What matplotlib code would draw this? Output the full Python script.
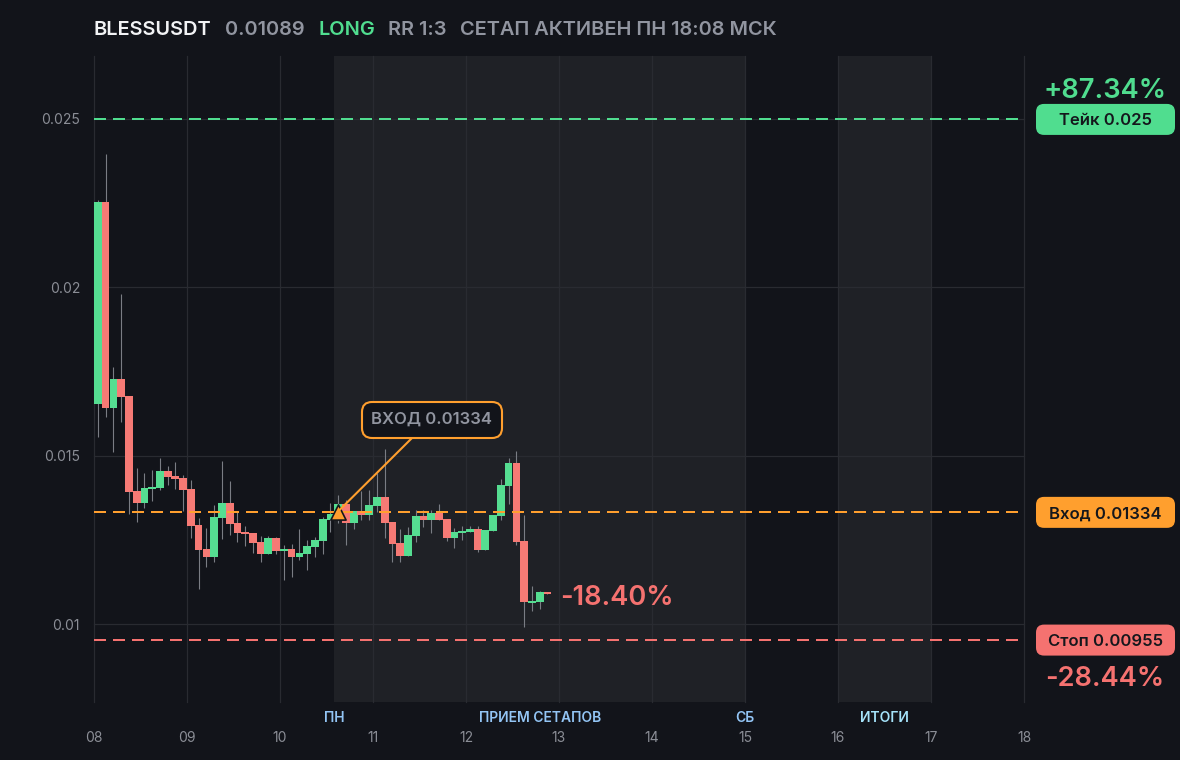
import numpy as np
import matplotlib
matplotlib.use("Agg")
import matplotlib.pyplot as plt
from matplotlib.patches import FancyBboxPatch

plt.rcParams["font.family"] = ["Inter", "DejaVu Sans"]

BG = "#12141a"
SHADE = "#1f2126"
GRID = "#292b31"
WICK = "#7a7d84"
GREEN = "#50dd8f"
RED = "#f57270"
CANDLE_GREEN = "#55dd91"
CANDLE_RED = "#f67a75"
ORANGE = "#ff9f2e"
GRAY = "#9195a0"
TICK = "#8b8e96"

# 2h candles, first one starts on day 08
opens = [16.541, 22.535, 16.422, 17.283, 16.778, 13.959, 13.603, 14.018, 14.048, 14.553,
         14.404, 14.345, 14.018, 12.950, 12.238, 12.000, 13.158, 13.603, 13.009, 12.742,
         12.713, 12.445, 12.090, 12.564, 12.179, 12.238, 12.000, 12.090, 12.297, 12.475,
         13.098, 13.158, 13.573, 13.009, 13.365, 13.247, 13.514, 13.781, 13.039, 12.416,
         12.030, 12.624, 13.217, 13.098, 13.306, 13.128, 12.564, 12.713, 12.742, 12.831,
         12.208, 12.772, 13.217, 14.107, 14.790, 12.475, 10.635, 10.665, 10.961]
highs = [22.594, 23.959, 17.639, 19.805, 16.778, 14.641, 14.493, 14.582, 14.938, 14.701,
         14.820, 14.434, 14.286, 13.158, 12.861, 13.544, 14.849, 14.256, 13.336, 12.920,
         12.713, 12.624, 12.624, 12.594, 12.357, 12.386, 12.831, 12.505, 12.594, 13.187,
         13.603, 13.840, 13.692, 13.365, 13.959, 13.989, 14.493, 15.205, 13.039, 12.831,
         12.891, 13.395, 13.395, 13.395, 13.573, 13.128, 12.861, 12.920, 12.920, 12.920,
         12.802, 13.247, 14.315, 14.938, 15.146, 13.247, 11.140, 10.990, 10.961]
lows = [15.561, 16.155, 15.116, 16.007, 13.276, 13.039, 13.455, 13.662, 13.989, 14.137,
        14.018, 13.365, 12.564, 11.051, 11.703, 11.852, 12.535, 12.653, 12.445, 12.327,
        12.119, 11.852, 12.090, 12.090, 11.318, 11.407, 11.911, 11.615, 12.000, 12.090,
        12.742, 13.009, 12.357, 12.831, 13.098, 13.098, 13.336, 12.564, 11.852, 11.852,
        12.030, 12.445, 12.891, 12.713, 13.098, 12.475, 12.268, 12.505, 12.742, 12.149,
        12.208, 12.772, 13.098, 13.573, 12.357, 9.923, 10.398, 10.457, 10.890]
closes = [22.535, 16.422, 17.283, 16.748, 13.929, 13.603, 14.048, 14.078, 14.553, 14.375,
          14.315, 13.989, 12.920, 12.208, 12.000, 13.187, 13.603, 12.980, 12.713, 12.683,
          12.416, 12.090, 12.564, 12.179, 12.238, 12.000, 12.119, 12.327, 12.505, 13.128,
          13.276, 13.573, 13.009, 13.365, 13.247, 13.544, 13.781, 13.009, 12.386, 12.030,
          12.653, 13.217, 13.098, 13.306, 13.098, 12.564, 12.742, 12.772, 12.831, 12.208,
          12.802, 13.247, 14.137, 14.790, 12.445, 10.665, 10.694, 10.961, 10.890]

day_ticks = [8, 9, 10, 11, 12, 13, 14, 15, 16, 17, 18]
day_labels = ["08", "09", "10", "11", "12", "13", "14", "15", "16", "17", "18"]
price_ticks = [0.01, 0.015, 0.02, 0.025]
price_labels = ["0.01", "0.015", "0.02", "0.025"]

take = 0.025
entry = 0.01334
stop = 0.00955
entry_day = 10.62
shade_spans = [(10.583, 15.0), (16.0, 17.0)]
session_names = ["ПН", "ПРИЕМ СЕТАПОВ", "СБ", "ИТОГИ"]
session_days = [10.583, 12.8, 15.0, 16.5]
session_colors = ["#93c5f5", "#93c5f5", "#93c5f5", "#a5e3fa"]

W, H = 1180, 760
fig = plt.figure(figsize=(W / 100, H / 100), dpi=100, facecolor=BG)
ax = fig.add_axes([94 / W, 1 - 702 / H, 930 / W, 646 / H], facecolor=BG)
ax.set_xlim(8, 18)
ax.set_ylim(0.007698, 0.026867)
for s in ax.spines.values():
    s.set_visible(False)

for a, b in shade_spans:
    ax.axvspan(a, b, color=SHADE, lw=0, zorder=0)

ax.set_xticks(day_ticks)
ax.set_xticklabels(day_labels)
ax.set_yticks(price_ticks)
ax.set_yticklabels(price_labels)
ax.tick_params(length=0, labelcolor=TICK, labelsize=10)
ax.tick_params(axis="x", pad=21)
ax.tick_params(axis="y", pad=10)
ax.grid(True, color=GRID, lw=0.9, zorder=1)
ax.set_axisbelow(True)
for gl in ax.get_xgridlines() + ax.get_ygridlines():
    gl.set_clip_on(False)

o = np.array(opens) / 1000
h = np.array(highs) / 1000
l = np.array(lows) / 1000
c = np.array(closes) / 1000
x = 8 + (np.arange(len(o)) + 0.5) / 12
colors = [CANDLE_GREEN if b >= a else CANDLE_RED for a, b in zip(o, c)]

ax.vlines(x, l, h, color=WICK, lw=0.8, zorder=2)
ax.bar(x, np.abs(c - o), bottom=np.minimum(o, c), width=1 / 12, color=colors, lw=0, zorder=3)

dash = (0, (6, 3.5))
ax.axhline(take, color=GREEN, lw=1.44, ls=dash, zorder=4)
ax.axhline(entry, color=ORANGE, lw=1.44, ls=dash, zorder=4)
ax.axhline(stop, color=RED, lw=1.44, ls=dash, zorder=4)

for name, d, col in zip(session_names, session_days, session_colors):
    ax.annotate(name, (d, 0), xycoords=ax.get_xaxis_transform(), xytext=(0, -16),
                textcoords="offset pixels", ha="center", va="center",
                color=col, fontsize=10, fontweight="semibold")


def px_y(price):
    return ax.transData.transform((8, price))[1]


def pill(price, text, color):
    y = px_y(price) - 0.5
    box = FancyBboxPatch((1044, y - 7.5), 123, 15, boxstyle="round,pad=8,rounding_size=8",
                         transform=None, fc=color, ec=color, lw=0, zorder=5)
    fig.add_artist(box)
    fig.text(1105.5 / W, y / H, text, ha="center", va="center_baseline", color="#15171c",
             fontsize=12, fontweight="semibold", zorder=6)


pill(take, "Тейк 0.025", GREEN)
pill(entry, "Вход 0.01334", ORANGE)
pill(stop, "Стоп 0.00955", RED)

fig.text(1105 / W, 1 - 88 / H, "+87.34%", ha="center", va="center_baseline", color=GREEN,
         fontsize=19.6, fontweight="semibold")
fig.text(1105 / W, 1 - 676 / H, "-28.44%", ha="center", va="center_baseline", color=RED,
         fontsize=19.6, fontweight="semibold")
ax.annotate("-18.40%", (x[-1], c[-1]), xytext=(13, -1), textcoords="offset pixels", ha="left",
            va="center_baseline", color=RED, fontsize=19.6, fontweight="semibold", zorder=6)

# callout for the entry
ex, ey = ax.transData.transform((entry_day, entry))
fig.add_artist(plt.Line2D([ex, 412], [ey, H - 438], transform=None, color=ORANGE, lw=1.5, zorder=5))
ax.scatter([entry_day], [entry], marker="^", s=120, color=ORANGE, edgecolor="#15171c", lw=1.2, zorder=7)
fig.add_artist(FancyBboxPatch((372, H - 428), 120, 16, boxstyle="round,pad=10,rounding_size=10",
                              transform=None, fc=BG, ec=ORANGE, lw=1.5, zorder=6))
fig.text(431.5 / W, 1 - 418 / H, "ВХОД 0.01334", ha="center", va="center_baseline",
         color=GRAY, fontsize=12, fontweight="semibold", zorder=7)

# header row
title_parts = ["BLESSUSDT", "0.01089", "LONG", "RR 1:3", "СЕТАП АКТИВЕН ПН 18:08 МСК"]
title_x = [94, 225, 318, 388, 460]
title_colors = ["#f2f3f5", GRAY, GREEN, GRAY, GRAY]
for t, tx, col in zip(title_parts, title_x, title_colors):
    fig.text(tx / W, 1 - 28 / H, t, ha="left", va="center_baseline", color=col,
             fontsize=14.4, fontweight="semibold")

fig.savefig("out.png", dpi=100, facecolor=BG)
plt.close(fig)
